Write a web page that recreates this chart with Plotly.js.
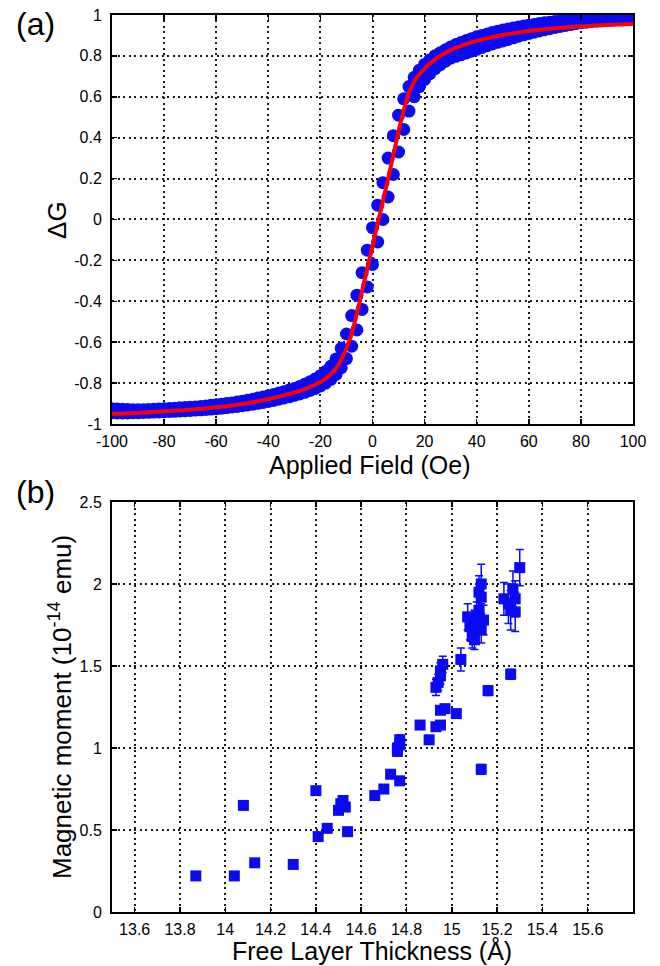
<!DOCTYPE html>
<html>
<head>
<meta charset="utf-8">
<script src="https://cdn.plot.ly/plotly-3.0.1.min.js"></script>
<style>html,body{margin:0;padding:0;background:#fff;}#chart{width:660px;height:966px;}</style>
</head>
<body>
<div id="chart"></div>
<script>
// ---------- Panel (a): Delta G vs applied field ----------
const fieldX = [-100,-98,-96,-94,-92,-90,-88,-86,-84,-82,-80,-78,-76,-74,-72,-70,-68,-66,-64,-62,
  -60,-58,-56,-54,-52,-50,-48,-46,-44,-42,-40,-38,-36,-34,-32,-30,-28,-26,-24,-22,
  -20,-18,-16,-14,-12,-10,-8,-6,-4,-2,0,2,4,6,8,10,12,14,16,18,
  20,22,24,26,28,30,32,34,36,38,40,42,44,46,48,50,52,54,56,58,
  60,62,64,66,68,70,72,74,76,78,80,82,84,86,88,90,92,94,96,98,100];
// measured points, sweep branch 1 (upper / left)
const dGBranch1 = [-0.925,-0.927,-0.928,-0.929,-0.930,-0.930,-0.930,-0.929,-0.928,-0.927,-0.925,-0.924,-0.923,-0.921,-0.920,-0.918,-0.917,-0.914,-0.912,-0.909,
  -0.906,-0.903,-0.900,-0.897,-0.893,-0.889,-0.884,-0.879,-0.873,-0.868,-0.862,-0.856,-0.849,-0.842,-0.834,-0.826,-0.817,-0.806,-0.794,-0.780,
  -0.764,-0.744,-0.718,-0.682,-0.630,-0.560,-0.470,-0.370,-0.260,-0.150,-0.040,0.070,0.180,0.300,0.410,0.510,0.590,0.650,0.695,0.730,
  0.758,0.780,0.800,0.815,0.830,0.843,0.855,0.865,0.875,0.884,0.893,0.900,0.907,0.914,0.920,0.926,0.931,0.936,0.941,0.946,
  0.950,0.954,0.958,0.962,0.965,0.968,0.971,0.974,0.976,0.978,0.980,0.982,0.983,0.984,0.985,0.985,0.986,0.986,0.987,0.987,0.988];
// measured points, sweep branch 2 (lower / right)
const dGBranch2 = [-0.945,-0.946,-0.946,-0.946,-0.945,-0.945,-0.944,-0.943,-0.942,-0.941,-0.940,-0.939,-0.938,-0.936,-0.935,-0.934,-0.932,-0.931,-0.929,-0.927,
  -0.925,-0.923,-0.920,-0.917,-0.914,-0.911,-0.907,-0.903,-0.899,-0.895,-0.890,-0.885,-0.879,-0.873,-0.867,-0.860,-0.853,-0.845,-0.836,-0.826,
  -0.814,-0.800,-0.782,-0.758,-0.725,-0.680,-0.620,-0.540,-0.440,-0.330,-0.220,-0.110,0.000,0.110,0.220,0.330,0.440,0.530,0.600,0.650,
  0.685,0.713,0.737,0.757,0.774,0.789,0.798,0.806,0.814,0.823,0.832,0.841,0.850,0.858,0.866,0.873,0.880,0.888,0.896,0.903,
  0.910,0.916,0.922,0.928,0.933,0.939,0.944,0.949,0.953,0.958,0.962,0.965,0.968,0.971,0.973,0.975,0.977,0.979,0.980,0.981,0.982];
// fitted curve (red)
const dGFit = [-0.950,-0.950,-0.949,-0.948,-0.947,-0.946,-0.944,-0.943,-0.941,-0.940,-0.938,-0.937,-0.935,-0.934,-0.932,-0.930,-0.928,-0.926,-0.924,-0.921,
  -0.918,-0.916,-0.913,-0.910,-0.906,-0.902,-0.898,-0.894,-0.889,-0.884,-0.878,-0.872,-0.866,-0.860,-0.853,-0.846,-0.838,-0.829,-0.819,-0.808,
  -0.795,-0.778,-0.757,-0.728,-0.685,-0.630,-0.560,-0.460,-0.350,-0.240,-0.130,-0.020,0.090,0.200,0.315,0.430,0.535,0.620,0.675,0.710,
  0.738,0.762,0.782,0.800,0.815,0.828,0.840,0.849,0.858,0.866,0.873,0.880,0.886,0.892,0.897,0.902,0.906,0.910,0.914,0.918,
  0.921,0.924,0.927,0.930,0.932,0.935,0.937,0.939,0.941,0.943,0.944,0.946,0.947,0.949,0.950,0.951,0.952,0.953,0.954,0.955,0.956];

const fieldTicks = [-100,-80,-60,-40,-20,0,20,40,60,80,100];
const fieldTickText = ['-100','-80','-60','-40','-20','0','20','40','60','80','100'];
const dGTicks = [-1,-0.8,-0.6,-0.4,-0.2,0,0.2,0.4,0.6,0.8,1];
const dGTickText = ['-1','-0.8','-0.6','-0.4','-0.2','0','0.2','0.4','0.6','0.8','1'];

// ---------- Panel (b): magnetic moment vs free layer thickness ----------
const thickness = [13.87,14.04,14.08,14.13,14.30,14.40,14.41,14.45,14.50,14.51,14.52,14.53,14.54,
  14.66,14.70,14.73,14.77,14.76,14.76,14.77,14.77,14.86,14.90,14.93,14.95,14.95,14.97,15.02,15.13,
  14.93,14.94,14.95,14.95,14.96,15.04,15.16,15.26,
  15.07,15.08,15.09,15.10,15.10,15.11,15.12,15.13,15.13,15.14,15.13,15.12,
  15.23,15.25,15.26,15.27,15.28,15.28,15.30];
const moment = [0.22,0.22,0.65,0.30,0.29,0.74,0.46,0.51,0.62,0.66,0.68,0.64,0.49,
  0.71,0.75,0.84,0.80,0.98,1.00,1.02,1.05,1.14,1.05,1.13,1.14,1.23,1.24,1.21,0.87,
  1.37,1.40,1.44,1.47,1.51,1.54,1.35,1.45,
  1.80,1.74,1.68,1.66,1.76,1.80,1.84,1.72,1.92,1.78,2.00,1.95,
  1.91,1.88,1.84,1.97,1.91,1.83,2.10];
const momentErr = [0.02,0.02,0.02,0.02,0.02,0.02,0.02,0.02,0.02,0.02,0.02,0.02,0.02,
  0.02,0.02,0.02,0.02,0.03,0.03,0.03,0.03,0.02,0.02,0.02,0.02,0.02,0.02,0.02,0.03,
  0.05,0.05,0.05,0.05,0.05,0.07,0.03,0.03,
  0.08,0.08,0.07,0.06,0.08,0.09,0.09,0.08,0.10,0.09,0.12,0.10,
  0.10,0.12,0.12,0.11,0.11,0.12,0.11];

const thickTicks = [13.6,13.8,14,14.2,14.4,14.6,14.8,15,15.2,15.4,15.6];
const thickTickText = ['13.6','13.8','14','14.2','14.4','14.6','14.8','15','15.2','15.4','15.6'];
const momentTicks = [0,0.5,1,1.5,2,2.5];
const momentTickText = ['0','0.5','1','1.5','2','2.5'];

// ---------- styling ----------
const FONT = 'Liberation Sans, Arial, Helvetica, sans-serif';
const BLUE = '#0a0af5';
const RED = '#ff0000';

const traces = [
  {x: fieldX, y: dGBranch1, type: 'scatter', mode: 'markers', xaxis: 'x', yaxis: 'y',
   marker: {symbol: 'circle', size: 13, color: BLUE, line: {width: 0}}},
  {x: fieldX, y: dGBranch2, type: 'scatter', mode: 'markers', xaxis: 'x', yaxis: 'y',
   marker: {symbol: 'circle', size: 13, color: BLUE, line: {width: 0}}},
  {x: fieldX, y: dGFit, type: 'scatter', mode: 'lines', xaxis: 'x', yaxis: 'y',
   line: {color: RED, width: 4, shape: 'spline', smoothing: 0.5}},
  {x: thickness, y: moment, type: 'scatter', mode: 'markers', xaxis: 'x2', yaxis: 'y2',
   marker: {symbol: 'square', size: 11, color: BLUE, line: {width: 0}},
   error_y: {type: 'data', array: momentErr, visible: true, color: BLUE, thickness: 1.5, width: 4}}
];

function axisBase(extra) {
  return Object.assign({
    showgrid: true, gridcolor: '#1a1a1a', gridwidth: 2, griddash: '2px,3.5px',
    showline: true, linecolor: '#000', linewidth: 2, mirror: 'ticks',
    ticks: 'inside', ticklen: 5, tickwidth: 1.5, tickcolor: '#000',
    zeroline: false, tickmode: 'array',
    tickfont: {family: FONT, size: 16, color: '#000'}
  }, extra);
}

const Y_TITLE_FONT = {family: FONT, size: 26, color: '#000'};
const X_TITLE_FONT = {family: FONT, size: 25, color: '#000'};
const PANEL_FONT = {family: FONT, size: 32, color: '#000'};

const layout = {
  width: 660, height: 966,
  margin: {l: 0, r: 0, t: 0, b: 0},
  paper_bgcolor: '#fff', plot_bgcolor: '#fff',
  showlegend: false,
  font: {family: FONT, color: '#000'},
  xaxis: axisBase({domain: [0.1697, 0.9591], range: [-100, 100], anchor: 'y',
    tickvals: fieldTicks, ticktext: fieldTickText, ticklabelstandoff: 2}),
  yaxis: axisBase({domain: [0.5611, 0.9845], range: [-1, 1], anchor: 'x',
    tickvals: dGTicks, ticktext: dGTickText, ticklabelstandoff: 5}),
  xaxis2: axisBase({domain: [0.1697, 0.9591], range: [13.5, 15.8], anchor: 'y2',
    tickvals: thickTicks, ticktext: thickTickText, ticklabelstandoff: 2}),
  yaxis2: axisBase({domain: [0.0559, 0.4803], range: [0, 2.5], anchor: 'x2',
    tickvals: momentTicks, ticktext: momentTickText, ticklabelstandoff: 5}),
  annotations: [
    {text: '(a)', xref: 'paper', yref: 'paper', x: 0.0545, y: 0.9752, showarrow: false,
     xanchor: 'center', yanchor: 'middle', font: PANEL_FONT},
    {text: '(b)', xref: 'paper', yref: 'paper', x: 0.0545, y: 0.4907, showarrow: false,
     xanchor: 'center', yanchor: 'middle', font: PANEL_FONT},
    {text: 'Applied Field (Oe)', xref: 'paper', yref: 'paper', x: 0.5606, y: 0.5186, showarrow: false,
     xanchor: 'center', yanchor: 'middle', borderpad: 0, font: X_TITLE_FONT},
    {text: 'Free Layer Thickness (Å)', xref: 'paper', yref: 'paper', x: 0.5636, y: 0.0, showarrow: false,
     xanchor: 'center', yanchor: 'bottom', borderpad: 0, font: X_TITLE_FONT},
    {text: 'ΔG', xref: 'paper', yref: 'paper', x: 0.0864, y: 0.7723, showarrow: false, textangle: -90,
     xanchor: 'center', yanchor: 'middle', font: Y_TITLE_FONT},
    {text: 'Magnetic moment (10<sup>-14</sup> emu)', xref: 'paper', yref: 'paper', x: 0.0909, y: 0.2681, showarrow: false, textangle: -90,
     xanchor: 'center', yanchor: 'middle', font: Y_TITLE_FONT}
  ]
};

Plotly.newPlot('chart', traces, layout, {staticPlot: true, displayModeBar: false});
</script>
</body>
</html>
